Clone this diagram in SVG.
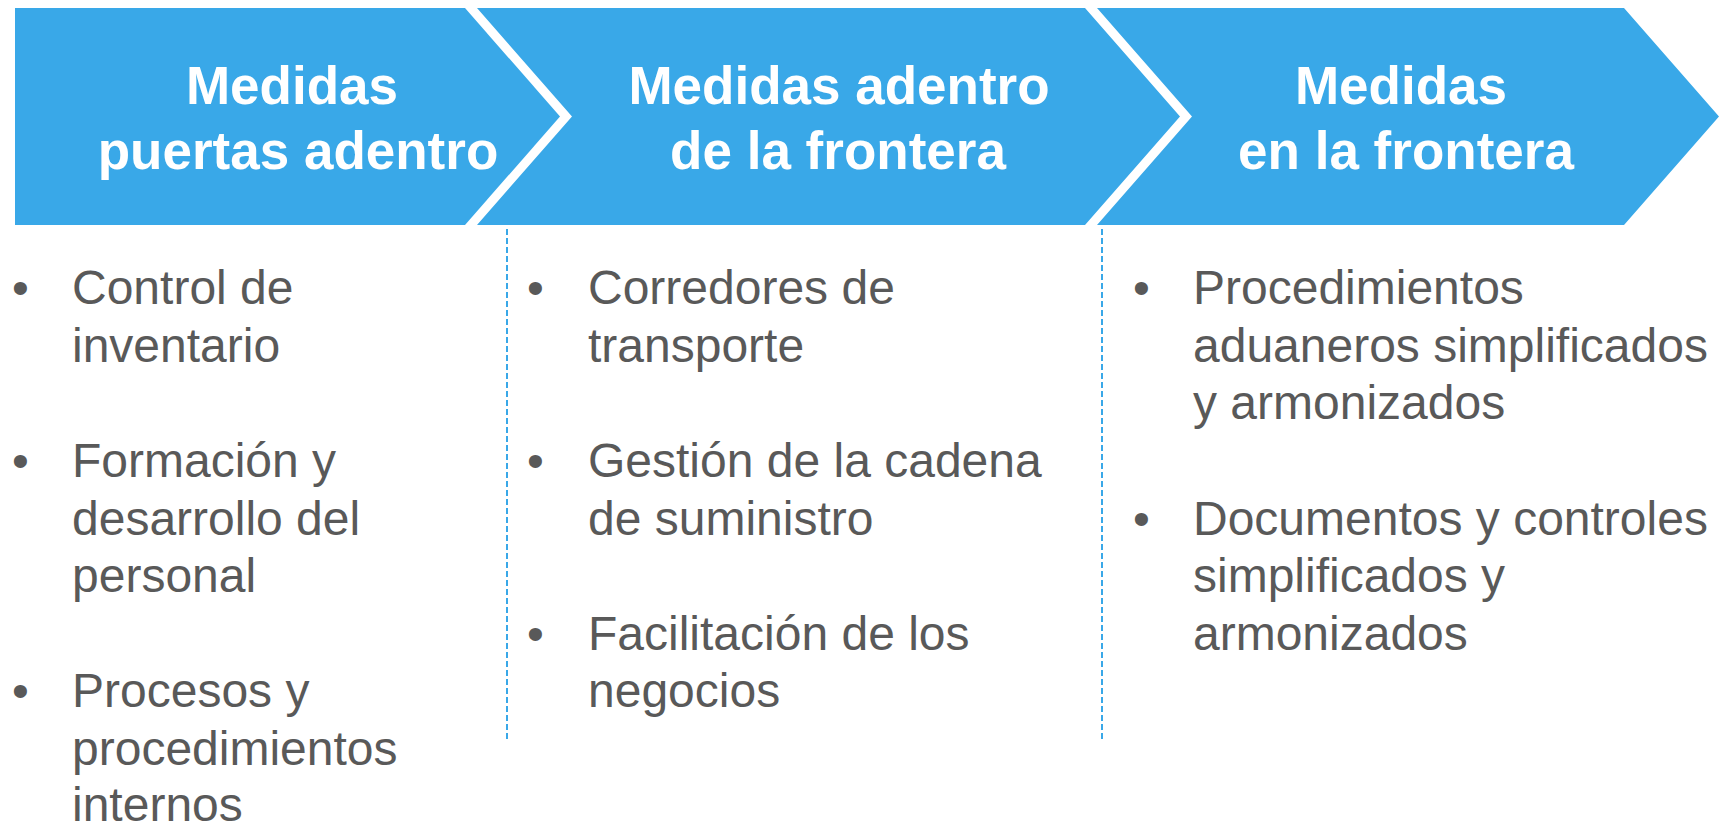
<svg xmlns="http://www.w3.org/2000/svg" width="1723" height="825" viewBox="0 0 1723 825">
<style>
.stage{fill:#39A8E8;}
.head{font-family:"Liberation Sans",Arial,sans-serif;font-weight:bold;font-size:53px;fill:#FFFFFF;text-anchor:middle;}
.body{font-family:"Liberation Sans",Arial,sans-serif;font-size:48px;fill:#595959;}
.sep{stroke:#39A8E8;stroke-width:2;stroke-dasharray:6 3;fill:none;}
</style>
<rect x="0" y="0" width="1723" height="825" fill="#FFFFFF"/>
<g id="stage1">
<path class="stage" d="M15,8 H465 L560,116.5 L465,225 H15 Z"/>
<text class="head" x="292" y="104">Medidas</text>
<text class="head" x="298" y="169">puertas adentro</text>
</g>
<g id="stage2">
<path class="stage" d="M477,8 H1085 L1180,116.5 L1085,225 H477 L572,116.5 Z"/>
<text class="head" x="839" y="104">Medidas adentro</text>
<text class="head" x="838" y="169">de la frontera</text>
</g>
<g id="stage3">
<path class="stage" d="M1097,8 H1624 L1719,116.5 L1624,225 H1097 L1192,116.5 Z"/>
<text class="head" x="1401" y="104">Medidas</text>
<text class="head" x="1406" y="169">en la frontera</text>
</g>
<g id="connectors">
<line class="sep" x1="507" y1="229" x2="507" y2="740"/>
<line class="sep" x1="1102" y1="229" x2="1102" y2="740"/>
</g>
<g id="list1" class="body">
<text x="12" y="304">•</text>
<text x="72" y="304">Control de</text>
<text x="72" y="362">inventario</text>
<text x="12" y="477">•</text>
<text x="72" y="477">Formación y</text>
<text x="72" y="535">desarrollo del</text>
<text x="72" y="592">personal</text>
<text x="12" y="707">•</text>
<text x="72" y="707">Procesos y</text>
<text x="72" y="765">procedimientos</text>
<text x="72" y="821">internos</text>
</g>
<g id="list2" class="body">
<text x="527" y="304">•</text>
<text x="588" y="304">Corredores de</text>
<text x="588" y="362">transporte</text>
<text x="527" y="477">•</text>
<text x="588" y="477">Gestión de la cadena</text>
<text x="588" y="535">de suministro</text>
<text x="527" y="650">•</text>
<text x="588" y="650">Facilitación de los</text>
<text x="588" y="707">negocios</text>
</g>
<g id="list3" class="body">
<text x="1133" y="304">•</text>
<text x="1193" y="304">Procedimientos</text>
<text x="1193" y="362">aduaneros simplificados</text>
<text x="1193" y="419">y armonizados</text>
<text x="1133" y="535">•</text>
<text x="1193" y="535">Documentos y controles</text>
<text x="1193" y="592">simplificados y</text>
<text x="1193" y="650">armonizados</text>
</g>
</svg>
